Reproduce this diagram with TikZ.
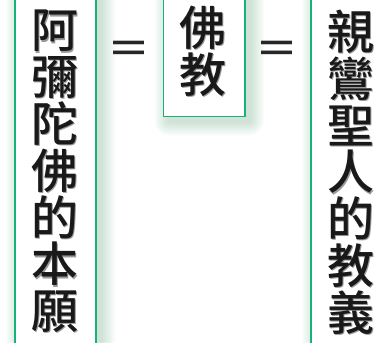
\documentclass[tikz,border=0pt]{standalone}
\usepackage{fontspec}
\newfontfamily\cjk{Noto Sans CJK TC Medium}
\definecolor{boxgreen}{RGB}{24,178,120}
\definecolor{glowgreen}{RGB}{110,185,140}
\tikzset{
  panel/.style={draw=boxgreen, line width=1.6pt, fill=white, inner sep=0pt},
  glow/.style={fill=glowgreen, opacity=0.025},
  col/.style={inner sep=0pt, outer sep=0pt, align=center, anchor=north,
    font=\cjk\fontsize{47}{46.8}\selectfont, text=black!90},
  colshadow/.style={col, text=black!40},
  eq/.style={inner sep=0pt, font=\cjk\fontsize{43}{43}\selectfont, text=black!85}
}
\newcommand{\glowrect}[4]{%
  \foreach \r in {1,...,14}{%
    \fill[glow, rounded corners=\r pt] (#1+6-\r,#2+6-\r) rectangle (#3+6+\r,#4+6+\r);}}
\begin{document}
\begin{tikzpicture}[x=1pt,y=-1pt]
\useasboundingbox (0,0) rectangle (379,342);
\fill[white] (0,0) rectangle (379,342);
\glowrect{14}{-20}{95}{360}
\glowrect{162.5}{-20}{244}{115.5}
\glowrect{310}{-20}{400}{360}
\node[panel, minimum width=81pt, minimum height=380pt, anchor=north west] (leftbox) at (14,-20) {};
\node[panel, minimum width=81.5pt, minimum height=135.5pt, anchor=north west] (midbox) at (162.5,-20) {};
\node[panel, minimum width=90pt, minimum height=380pt, anchor=north west] (rightbox) at (310,-20) {};
\node[colshadow] (lefttextsh) at (56.4,11.2) {阿\\彌\\陀\\佛\\的\\本\\願};
\node[col] (lefttext) at (55,10) {阿\\彌\\陀\\佛\\的\\本\\願};
\node[colshadow] (midtextsh) at (204.4,7.2) {佛\\教};
\node[col] (midtext) at (203,6) {佛\\教};
\node[colshadow] (righttextsh) at (352.4,11.2) {親\\鸞\\聖\\人\\的\\教\\義};
\node[col] (righttext) at (351,10) {親\\鸞\\聖\\人\\的\\教\\義};
\node[eq] (eqleft) at (129,53) {＝};
\node[eq] (eqright) at (277,53) {＝};
\end{tikzpicture}
\end{document}
